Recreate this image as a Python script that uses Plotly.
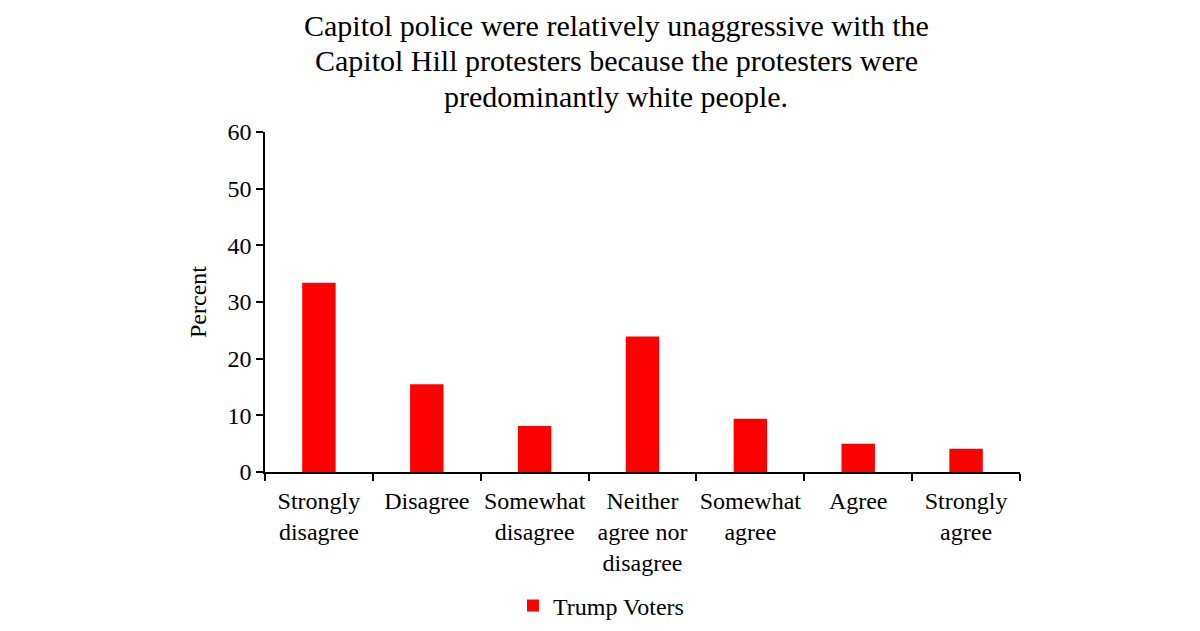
import plotly.graph_objects as go

categories = ["Strongly<br>disagree", "Disagree", "Somewhat<br>disagree",
              "Neither<br>agree nor<br>disagree", "Somewhat<br>agree", "Agree",
              "Strongly<br>agree"]
trump_voters = [33.4, 15.5, 8.1, 23.9, 9.4, 5.0, 4.1]
y_ticks = [0, 10, 20, 30, 40, 50, 60]
series_name = "Trump Voters"
title_lines = ["Capitol police were relatively unaggressive with the",
               "Capitol Hill protesters because the protesters were",
               "predominantly white people."]

font_family = "Liberation Serif"

fig = go.Figure()
fig.add_trace(go.Bar(
    x=categories, y=trump_voters, name=series_name,
    marker=dict(color="#FF0000", line=dict(width=0)),
    width=0.31, showlegend=True,
))

# title: one annotation per line, centred at ~616px
line_centres_px = [25, 60, 96]
for line, cy in zip(title_lines, line_centres_px):
    fig.add_annotation(
        text=line, xref="paper", yref="paper",
        x=(616 - 265) / 755, y=1 + (132 - cy) / 341,
        xanchor="center", yanchor="middle", showarrow=False,
        font=dict(family=font_family, size=30, color="black"),
    )

fig.update_layout(
    width=1200, height=631,
    paper_bgcolor="white", plot_bgcolor="white",
    margin=dict(l=257, r=188, t=124, b=166),
    font=dict(family=font_family, size=24, color="black"),
    showlegend=True,
    legend=dict(orientation="h", x=(601 - 265) / 755, xref="paper", xanchor="center",
                y=-(606 - 473) / 341, yref="paper", yanchor="middle",
                font=dict(family=font_family, size=24)),
)
fig.update_xaxes(
    type="category", showline=True, linecolor="black", linewidth=1.5,
    ticks="outside", ticklen=7, tickwidth=1.5, tickcolor="black",
    tickson="boundaries", showgrid=False, tickangle=0,
    ticklabelstandoff=6,
    tickfont=dict(family=font_family, size=24),
)
fig.update_yaxes(
    range=[0, 60], tickvals=y_ticks, showline=True, linecolor="black",
    linewidth=1.5, ticks="outside", ticklen=7, tickwidth=1.5,
    tickcolor="black", showgrid=False, zeroline=False,
    title=dict(text="Percent", font=dict(family=font_family, size=24), standoff=14),
    tickfont=dict(family=font_family, size=24),
)

fig.write_html("out.html")
